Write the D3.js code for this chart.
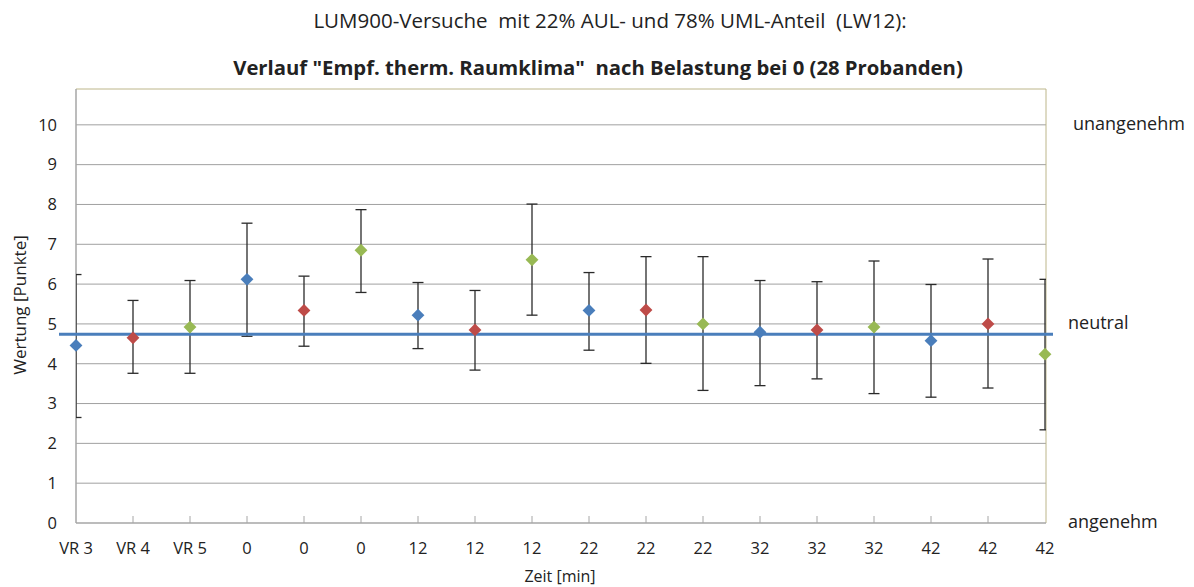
<!DOCTYPE html>
<html>
<head>
<meta charset="utf-8">
<script src="https://cdn.jsdelivr.net/npm/d3@7"></script>
<style>
  body { margin: 0; background: #fff; }
  svg text { font-family: "Open Sans", sans-serif; fill: #222; white-space: pre; }
</style>
</head>
<body>
<svg id="chart" width="1194" height="587"></svg>
<script>
// x categories (time in min, VR = Vorruhe)
const labels = ["VR 3", "VR 4", "VR 5", "0", "0", "0", "12", "12", "12",
                "22", "22", "22", "32", "32", "32", "42", "42", "42"];
// mean ratings
const means = [4.46, 4.65, 4.92, 6.12, 5.34, 6.85, 5.22, 4.85, 6.61,
               5.34, 5.35, 5.00, 4.79, 4.85, 4.92, 4.58, 5.00, 4.24];
// error bar ends
const upper = [6.24, 5.59, 6.09, 7.53, 6.20, 7.87, 6.04, 5.84, 8.01,
               6.29, 6.69, 6.69, 6.09, 6.06, 6.58, 5.99, 6.63, 6.12];
const lower = [2.65, 3.76, 3.76, 4.69, 4.44, 5.79, 4.38, 3.84, 5.22,
               4.34, 4.01, 3.33, 3.45, 3.62, 3.25, 3.16, 3.39, 2.34];
// marker series (repeating blue / red / green)
const series = ["a", "b", "c", "a", "b", "c", "a", "b", "c",
                "a", "b", "c", "a", "b", "c", "a", "b", "c"];
const neutralLine = 4.74;
const yTicks = [0, 1, 2, 3, 4, 5, 6, 7, 8, 9, 10];
const sideLabels = [["unangenehm", 10], ["neutral", 5], ["angenehm", 0]];

const svg = d3.select("#chart");
const pLeft = 76, pRight = 1046, pTop = 89, pBottom = 523;

const x = d3.scalePoint()
  .domain(d3.range(labels.length))
  .range([pLeft, pRight - 1]);
const y = d3.scaleLinear()
  .domain([0, 10.9])
  .range([pBottom, pTop]);

const color = d3.scaleOrdinal()
  .domain(["a", "b", "c"])
  .range(["#4a7ebb", "#be4b48", "#98b954"]);

// titles
svg.append("text")
  .attr("x", 610).attr("y", 28)
  .attr("text-anchor", "middle")
  .style("font-size", "20.5px")
  .text("LUM900-Versuche  mit 22% AUL- und 78% UML-Anteil  (LW12):");
svg.append("text")
  .attr("x", 598).attr("y", 75)
  .attr("text-anchor", "middle")
  .style("font-size", "20.3px").style("font-weight", "bold")
  .text('Verlauf "Empf. therm. Raumklima"  nach Belastung bei 0 (28 Probanden)');

// gridlines
svg.append("g")
  .selectAll("line")
  .data(yTicks.filter(d => d > 0))
  .join("line")
    .attr("x1", pLeft).attr("x2", pRight)
    .attr("y1", d => y(d)).attr("y2", d => y(d))
    .attr("stroke", "#a0a0a0").attr("stroke-width", 1);

// plot frame: top/right olive, left/bottom grey
svg.append("line").attr("x1", pLeft).attr("x2", pRight).attr("y1", pTop).attr("y2", pTop)
  .attr("stroke", "#bdb68a");
svg.append("line").attr("x1", pRight).attr("x2", pRight).attr("y1", pTop).attr("y2", pBottom)
  .attr("stroke", "#bdb68a");
svg.append("line").attr("x1", pLeft).attr("x2", pLeft).attr("y1", pTop).attr("y2", pBottom)
  .attr("stroke", "#a6a6a6").attr("stroke-width", 1.5);
svg.append("line").attr("x1", pLeft).attr("x2", pRight).attr("y1", pBottom).attr("y2", pBottom)
  .attr("stroke", "#a6a6a6").attr("stroke-width", 1.5);

// y axis labels
const yAxis = svg.append("g")
  .attr("transform", `translate(${pLeft},0)`)
  .call(d3.axisLeft(y).tickValues(yTicks).tickSize(0).tickPadding(19));
yAxis.select(".domain").remove();
yAxis.selectAll("text").style("font-size", "16.5px").attr("fill", "#222");

// x axis: small inward ticks + labels
svg.append("g")
  .selectAll("line")
  .data(d3.range(1, labels.length - 1))
  .join("line")
    .attr("x1", d => x(d)).attr("x2", d => x(d))
    .attr("y1", pBottom).attr("y2", pBottom - 7)
    .attr("stroke", "#a6a6a6");
svg.append("g")
  .selectAll("text")
  .data(labels)
  .join("text")
    .attr("x", (d, i) => x(i))
    .attr("y", 554)
    .attr("text-anchor", "middle")
    .style("font-size", "16.5px")
    .text(d => d);

svg.append("text")
  .attr("x", 560).attr("y", 582)
  .attr("text-anchor", "middle")
  .style("font-size", "16px")
  .text("Zeit [min]");
svg.append("text")
  .attr("transform", "translate(26,305) rotate(-90)")
  .attr("text-anchor", "middle")
  .style("font-size", "17px")
  .text("Wertung [Punkte]");

// right side verbal anchors
svg.append("g")
  .selectAll("text")
  .data(sideLabels)
  .join("text")
    .attr("x", d => d[0] === "unangenehm" ? 1073 : 1068)
    .attr("y", d => y(d[1]) + 5)
    .style("font-size", "18px")
    .text(d => d[0]);

// error bars, clipped to plot area
svg.append("clipPath").attr("id", "plotclip")
  .append("rect").attr("x", pLeft).attr("y", pTop - 5)
  .attr("width", pRight - pLeft).attr("height", pBottom - pTop + 10);
const err = svg.append("g").attr("clip-path", "url(#plotclip)")
  .attr("stroke", "#2a2a2a").attr("stroke-width", 1.3);
const idx = d3.range(labels.length);
err.selectAll("line.v").data(idx).join("line").attr("class", "v")
  .attr("x1", i => x(i)).attr("x2", i => x(i))
  .attr("y1", i => y(upper[i])).attr("y2", i => y(lower[i]));
err.selectAll("line.t").data(idx).join("line").attr("class", "t")
  .attr("x1", i => x(i) - 5.5).attr("x2", i => x(i) + 5.5)
  .attr("y1", i => y(upper[i])).attr("y2", i => y(upper[i]));
err.selectAll("line.b").data(idx).join("line").attr("class", "b")
  .attr("x1", i => x(i) - 5.5).attr("x2", i => x(i) + 5.5)
  .attr("y1", i => y(lower[i])).attr("y2", i => y(lower[i]));

// neutral reference line
svg.append("line")
  .attr("x1", pLeft - 17).attr("x2", pRight + 7)
  .attr("y1", y(neutralLine)).attr("y2", y(neutralLine))
  .attr("stroke", "#4a7ebb").attr("stroke-width", 3);

// diamond markers
svg.append("g")
  .selectAll("path")
  .data(idx)
  .join("path")
    .attr("transform", i => `translate(${x(i)},${y(means[i])})`)
    .attr("d", d3.symbol().type(d3.symbolDiamond2).size(105))
    .attr("fill", i => color(series[i]));
</script>
</body>
</html>
